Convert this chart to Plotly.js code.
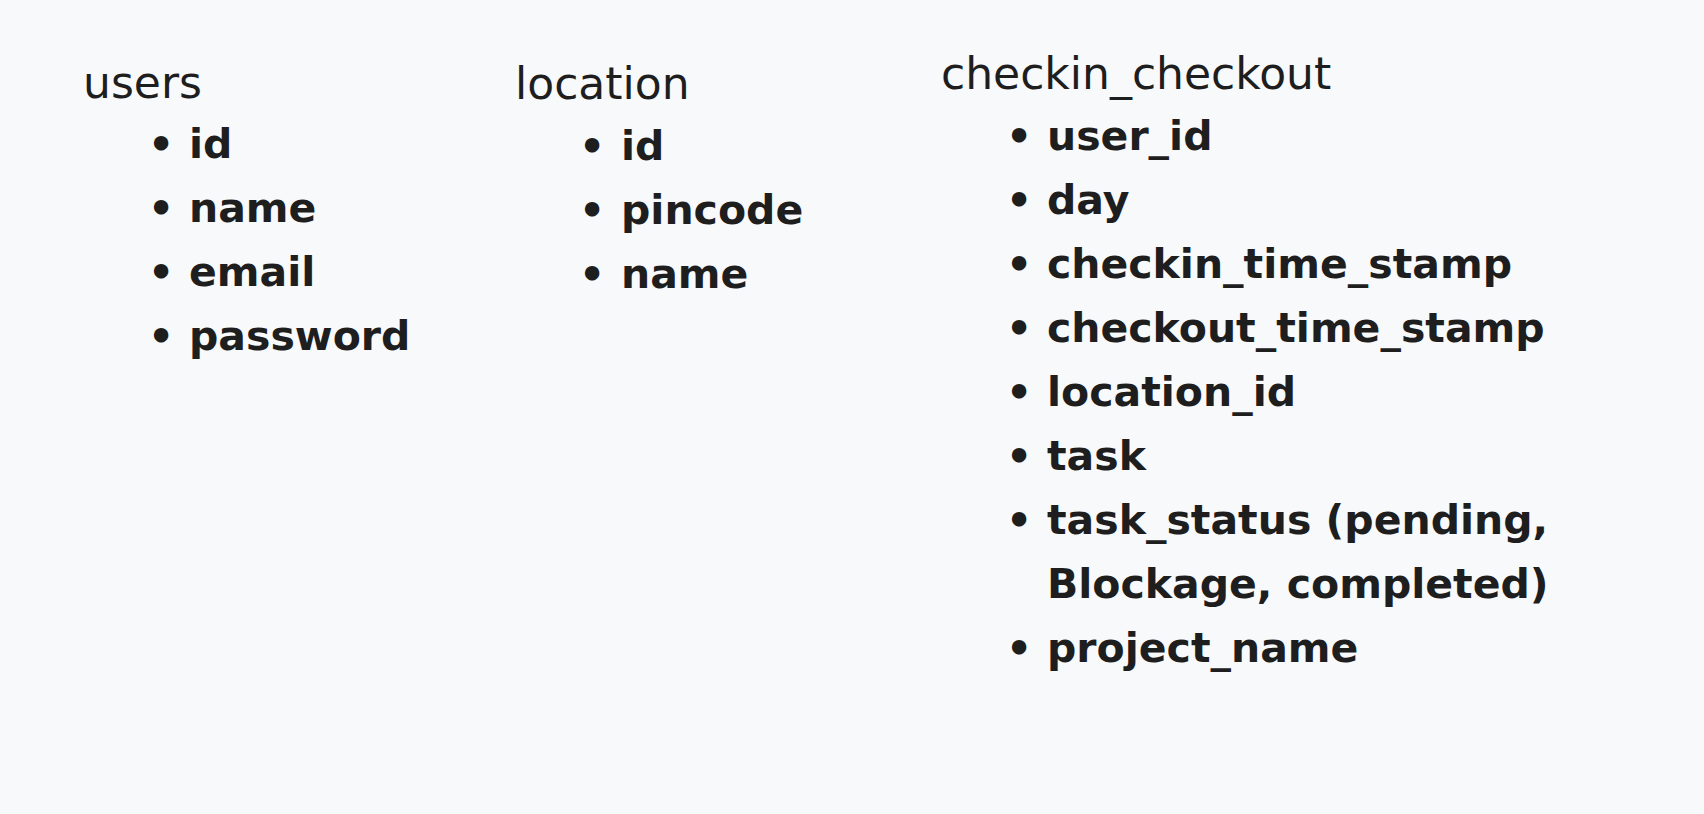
<!DOCTYPE html>
<html><head><meta charset="utf-8">
<script src="https://cdn.plot.ly/plotly-3.0.1.min.js"></script>
<style>html,body{margin:0;padding:0;background:#f8f9fb}</style>
</head><body><div id="chart" style="width:1704px;height:814px"></div>
<script>
const tableNames = ["users", "location", "checkin_checkout"];
const usersFields = ["id", "name", "email", "password"];
const locationFields = ["id", "pincode", "name"];
const checkinFields = ["user_id", "day", "checkin_time_stamp", "checkout_time_stamp", "location_id", "task", "task_status (pending,|Blockage, completed)", "project_name"];
const fieldLists = [usersFields, locationFields, checkinFields];

// layout config (pixels)
const W = 1704, H = 814;
const cols = [
  {titleX: 81, titleY: 82, bulletX: 146, textX: 187, firstY: 144},
  {titleX: 513, titleY: 84, bulletX: 577, textX: 619, firstY: 146},
  {titleX: 939, titleY: 74, bulletX: 1004, textX: 1045, firstY: 136}
];
const step = 64;
const fontBase = {family: "'DejaVu Sans', sans-serif", size: 41, color: "#1e1e1e"};

const ann = [];
function add(text, x, y, weight, size) {
  ann.push({text: text, x: x / W, y: 1 - y / H, xref: "paper", yref: "paper",
    xanchor: "left", yanchor: "middle", showarrow: false,
    font: Object.assign({}, fontBase, {weight: weight, size: size || fontBase.size})});
}
tableNames.forEach((name, i) => {
  const c = cols[i];
  add(name, c.titleX, c.titleY, 400, 44);
  let row = 0;
  fieldLists[i].forEach(f => {
    const parts = f.split("|");
    add("•", c.bulletX, c.firstY + row * step, 700);
    parts.forEach(p => { add(p, c.textX, c.firstY + row * step, 700); row++; });
  });
});

Plotly.newPlot("chart", [], {
  width: W, height: H, margin: {l: 0, r: 0, t: 0, b: 0},
  paper_bgcolor: "#f8f9fb", plot_bgcolor: "#f8f9fb",
  xaxis: {visible: false}, yaxis: {visible: false},
  annotations: ann, showlegend: false
}, {displayModeBar: false, staticPlot: true});
</script></body></html>
